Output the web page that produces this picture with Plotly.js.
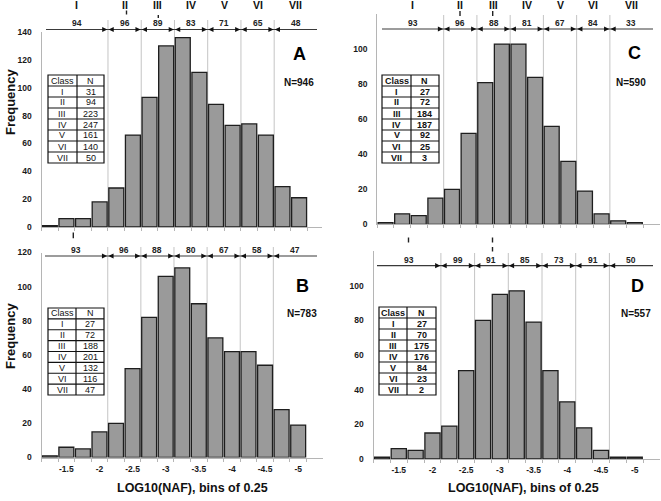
<!DOCTYPE html>
<html><head><meta charset="utf-8">
<script src="https://cdn.plot.ly/plotly-3.0.1.min.js"></script>
<style>html,body{margin:0;padding:0;background:#fff}#chart{width:661px;height:501px}</style>
</head><body><div id="chart"></div>
<script>
// ---------- data ----------
const binCenters = [-1.25,-1.5,-1.75,-2,-2.25,-2.5,-2.75,-3,-3.25,-3.5,-3.75,-4,-4.25,-4.5,-4.75,-5];
const freqA = [1,6,6,18,28,66,93,130,136,111,88,73,74,66,29,21];
const freqB = [1,6,5,15,20,52,82,106,111,90,70,62,62,54,28,19];
const freqC = [1,6,5,15,20,52,81,103,103,84,56,36,19,6,2,1];
const freqD = [1,6,5,15,19,51,80,95,97,79,51,33,18,5,1,1];
const classNames = ['I','II','III','IV','V','VI','VII'];
const classBounds = [-2.125,-2.625,-3.125,-3.625,-4.125,-4.625];
const classNA = [31,94,223,247,161,140,50];
const classNB = [27,72,188,201,132,116,47];
const classNC = [27,72,184,187,92,25,3];
const classND = [27,70,175,176,84,23,2];
const arrowA = [94,96,89,83,71,65,48];
const arrowB = [93,96,88,80,67,58,47];
const arrowC = [93,96,88,81,67,84,33];
const arrowD = [93,99,91,85,73,91,50];
const totals = {A:946, B:783, C:590, D:557};
const xTickVals = [-1.5,-2,-2.5,-3,-3.5,-4,-4.5,-5];
const xTickText = ['-1.5','-2','-2.5','-3','-3.5','-4','-4.5','-5'];
const yTicksAB = {A:[0,20,40,60,80,100,120,140], B:[0,20,40,60,80,100,120]};
const yTicksCD = [0,20,40,60,80,100];
const xTitle = 'LOG10(NAF), bins of 0.25';
const yTitle = 'Frequency';

// ---------- layout helpers ----------
const FONT = 'Arial, "Liberation Sans", Helvetica, sans-serif';
const W = 661, H = 501;
const px = v => v / W;
const py = v => 1 - v / H;
const binStep = binCenters[0] - binCenters[1];
const firstEdge = binCenters[0] + binStep / 2;
const binEdges = [firstEdge].concat(binCenters.map(c => c - binStep / 2));

const panels = [
  {key:'A', freq:freqA, classN:classNA, arrowN:arrowA, xa:'x', ya:'y', x0:41.5, w:16.62, xEnd:322, yBase:227, yTop:32, ymax:140, yticks:yTicksAB.A,
   arrowY:29.5, arrowL:46, arrowR:317, numY:23, lineTop:20, roman:true, romanY:4.5, tbl:{l:48,r:104,m:77,t:75,b:163}, boldTbl:false, letter:[299,54], nlab:[299,82], xlabels:false, ylab:[10,102]},
  {key:'B', freq:freqB, classN:classNB, arrowN:arrowB, xa:'x2', ya:'y2', x0:41.5, w:16.56, xEnd:322.7, yBase:457.5, yTop:252.5, ymax:120, yticks:yTicksAB.B,
   arrowY:256, arrowL:45, arrowR:317, numY:250, lineTop:247, roman:false, tbl:{l:48,r:104,m:76,t:308,b:395}, boldTbl:false, letter:[302,286], nlab:[302,313], xlabels:true, xlab:[192,488], ylab:[10,336]},
  {key:'C', freq:freqC, classN:classNC, arrowN:arrowC, xa:'x3', ya:'y3', x0:377.2, w:16.62, xEnd:660, yBase:224.3, yTop:14.3, ymax:120, yticks:yTicksCD,
   arrowY:29, arrowL:382, arrowR:653, numY:23, lineTop:15, roman:true, romanY:4.5, tbl:{l:382,r:439,m:411,t:75,b:163}, boldTbl:true, letter:[634,53], nlab:[631,82], xlabels:false},
  {key:'D', freq:freqD, classN:classND, arrowN:arrowD, xa:'x4', ya:'y4', x0:373.5, w:16.85, xEnd:660, yBase:459, yTop:251, ymax:120, yticks:yTicksCD,
   arrowY:265.7, arrowL:377, arrowR:653, numY:259.5, lineTop:253, roman:false, tbl:{l:379,r:436,m:407,t:307,b:395}, boldTbl:true, letter:[637,286], nlab:[636,313], xlabels:true, xlab:[523,488]}
];

const traces = [];
const layout = {
  width: W, height: H, margin:{l:0,r:0,t:0,b:0}, paper_bgcolor:'#fff', plot_bgcolor:'rgba(0,0,0,0)',
  showlegend:false, bargap:0.1, font:{family:FONT, color:'#222'},
  shapes:[], annotations:[]
};
const ann = (o) => layout.annotations.push(Object.assign({showarrow:false, xanchor:'center', yanchor:'middle', borderpad:0,
  font:{family:FONT, size:9, color:'#1a1a1a'}}, o));

panels.forEach(p => {
  const toData = v => firstEdge - (v - p.x0) / p.w * binStep;
  const s = binStep / p.w; // data units per px
  const xr = [firstEdge, toData(p.xEnd)];
  const xName = p.xa === 'x' ? 'xaxis' : 'xaxis' + p.xa.slice(1);
  const yName = p.ya === 'y' ? 'yaxis' : 'yaxis' + p.ya.slice(1);

  traces.push({type:'bar', x:binCenters, y:p.freq, xaxis:p.xa, yaxis:p.ya,
    marker:{color:'#9a9a9a', line:{color:'#1e1e1e', width:1.3}}, hoverinfo:'skip'});

  layout[xName] = {domain:[px(p.x0), px(p.xEnd)], range:xr, anchor:p.ya, showgrid:false, zeroline:false,
    showline:true, linecolor:'#b5b5b5', linewidth:1, ticks:'', tickmode:'array', tickvals:xTickVals, ticktext:xTickText,
    showticklabels:p.xlabels, tickfont:{family:FONT, size:8.5, color:'#1a1a1a', weight:'bold'}, ticklabelstandoff:3,
    minor:{ticks:'outside', ticklen:3, tickcolor:'#b5b5b5', tickmode:'array', tickvals:binEdges}};
  layout[yName] = {domain:[py(p.yBase), py(p.yTop)], range:[0, p.ymax], anchor:p.xa, showgrid:false, zeroline:false,
    showline:true, linecolor:'#b5b5b5', linewidth:1, ticks:'', tickmode:'array', tickvals:p.yticks,
    tickfont:{family:FONT, size:8.5, color:'#1a1a1a', weight:'bold'}, ticklabelstandoff:7};

  // class boundary lines
  classBounds.forEach(b => layout.shapes.push({type:'line', xref:p.xa, yref:'paper', x0:b, x1:b, y0:py(p.yBase), y1:py(p.lineTop),
    line:{color:'#c4c4c4', width:1}, layer:'below'}));
  // arrow row line
  layout.shapes.push({type:'line', xref:p.xa, yref:'paper', x0:toData(p.arrowL), x1:toData(p.arrowR), y0:py(p.arrowY), y1:py(p.arrowY),
    line:{color:'#3a3a3a', width:1.2}});
  // arrowheads
  const hy = 2.6 / H, yy = py(p.arrowY);
  classBounds.forEach(b => {
    const rT = b + 0.6 * s, rB = b + 5.8 * s;
    const lT = b - 0.6 * s, lB = b - 5.8 * s;
    layout.shapes.push({type:'path', xref:p.xa, yref:'paper', path:`M ${rT},${yy} L ${rB},${yy+hy} L ${rB},${yy-hy} Z`, fillcolor:'#111', line:{width:0}});
    layout.shapes.push({type:'path', xref:p.xa, yref:'paper', path:`M ${lT},${yy} L ${lB},${yy+hy} L ${lB},${yy-hy} Z`, fillcolor:'#111', line:{width:0}});
  });
  // segment numbers and roman labels
  const segEdges = [toData(p.arrowL)].concat(classBounds, [toData(p.arrowR)]);
  p.arrowN.forEach((n, i) => {
    const mid = (segEdges[i] + segEdges[i+1]) / 2;
    ann({xref:p.xa, yref:'paper', x:mid, y:py(p.numY), text:'<b>'+n+'</b>', font:{family:FONT, size:8.5, color:'#222'}});
    if (p.roman) ann({xref:p.xa, yref:'paper', x:mid, y:py(p.romanY), text:'<b>'+classNames[i]+'</b>', font:{family:FONT, size:10.5, color:'#111'}});
  });
  // table
  const t = p.tbl, rows = classNames.length + 1, rh = (t.b - t.t) / rows;
  layout.shapes.push({type:'rect', xref:'paper', yref:'paper', x0:px(t.l), x1:px(t.r), y0:py(t.b), y1:py(t.t), line:{color:'#111', width:1.2}, fillcolor:'#fff'});
  layout.shapes.push({type:'line', xref:'paper', yref:'paper', x0:px(t.m), x1:px(t.m), y0:py(t.b), y1:py(t.t), line:{color:'#111', width:1.2}});
  for (let r = 1; r < rows; r++) {
    const yv = py(t.t + r * rh);
    layout.shapes.push({type:'line', xref:'paper', yref:'paper', x0:px(t.l), x1:px(t.r), y0:yv, y1:yv, line:{color:'#111', width:1.1}});
  }
  const cellTxt = (txt) => p.boldTbl ? '<b>'+txt+'</b>' : txt;
  const colL = (t.l + t.m) / 2, colR = (t.m + t.r) / 2;
  const tfont = {family:FONT, size:9, color:'#111'};
  ann({xref:'paper', yref:'paper', x:px(colL), y:py(t.t + rh/2), text:cellTxt('Class'), font:tfont});
  ann({xref:'paper', yref:'paper', x:px(colR), y:py(t.t + rh/2), text:cellTxt('N'), font:tfont});
  classNames.forEach((c, i) => {
    const yc = py(t.t + (i + 1.5) * rh);
    ann({xref:'paper', yref:'paper', x:px(colL), y:yc, text:cellTxt(c), font:tfont});
    ann({xref:'paper', yref:'paper', x:px(colR), y:yc, text:cellTxt(String(p.classN[i])), font:tfont});
  });
  // letters and N
  ann({xref:'paper', yref:'paper', x:px(p.letter[0]), y:py(p.letter[1]), text:'<b>'+p.key+'</b>', font:{family:FONT, size:18, color:'#000'}});
  ann({xref:'paper', yref:'paper', x:px(p.nlab[0]), y:py(p.nlab[1]), text:'<b>N='+totals[p.key]+'</b>', font:{family:FONT, size:10, color:'#111'}});
  if (p.ylab) ann({xref:'paper', yref:'paper', x:px(p.ylab[0]), y:py(p.ylab[1]), text:'<b>'+yTitle+'</b>', textangle:-90, font:{family:FONT, size:13, color:'#111'}});
  if (p.xlab) ann({xref:'paper', yref:'paper', x:px(p.xlab[0]), y:py(p.xlab[1]), text:'<b>'+xTitle+'</b>', font:{family:FONT, size:12.5, color:'#111'}});
});

// small stray marks from the original figure
const marks = [[73.3,232.5,238.3],[408.5,237.5,242.5],[492.5,237.5,242.5],[492.5,247,251.5],[126.5,10.5,14.5],[158.3,15,18],[460,11,16],[492.7,11,16]];
marks.forEach(m => layout.shapes.push({type:'line', xref:'paper', yref:'paper', x0:px(m[0]), x1:px(m[0]), y0:py(m[1]), y1:py(m[2]), line:{color:'#222', width:1.4}}));

Plotly.newPlot('chart', traces, layout, {staticPlot:true, displayModeBar:false});
</script>
</body></html>
